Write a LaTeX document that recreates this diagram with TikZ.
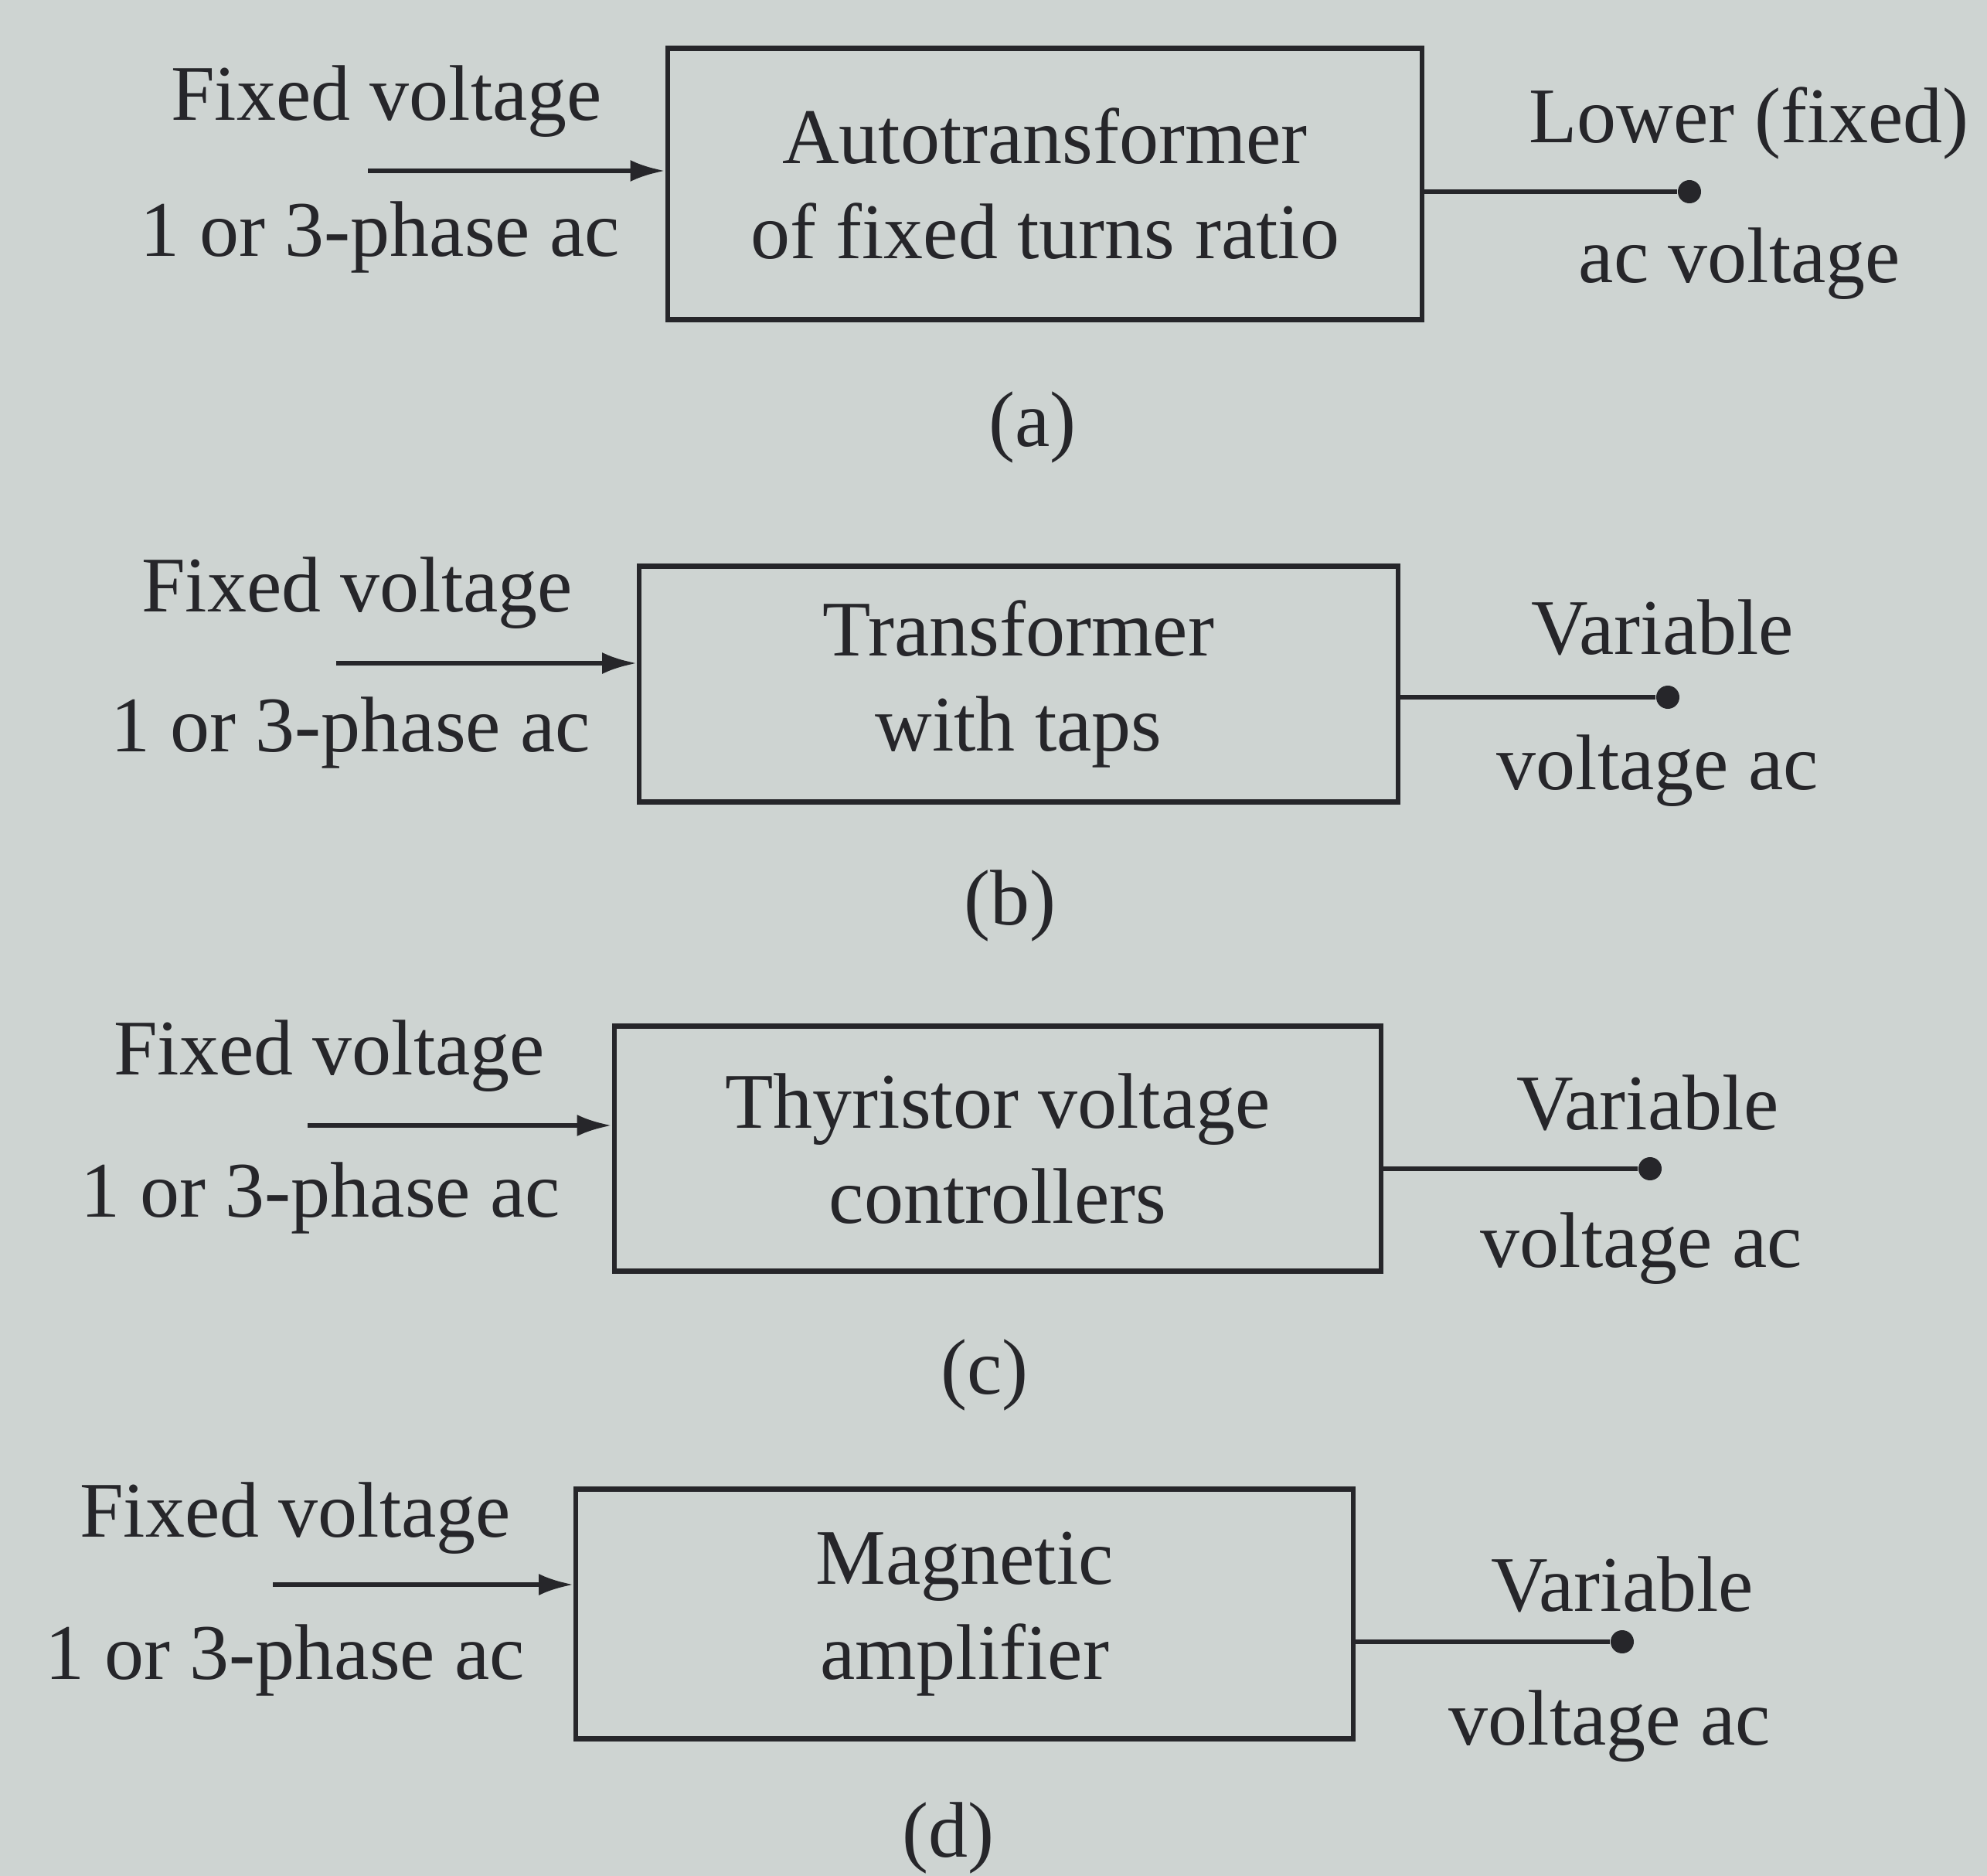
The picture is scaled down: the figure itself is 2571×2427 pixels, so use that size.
\documentclass[tikz,border=0pt]{standalone}
\usepackage{fontspec}
\setmainfont{Liberation Serif}
\usetikzlibrary{arrows.meta}
\definecolor{bg}{RGB}{206,212,210}
\definecolor{ink}{RGB}{38,38,42}
\begin{document}
\begin{tikzpicture}[x=0.01cm,y=-0.01cm,
  txt/.style={text=ink,font=\fontsize{29}{35}\selectfont,inner sep=0pt},
  blockbox/.style={draw=ink,line width=1.8pt,text=ink,align=center,inner sep=0pt,
     font=\fontsize{29}{35}\selectfont},
  inarrow/.style={draw=ink,line width=1.8pt,-{Latex[length=0.45cm,width=0.28cm]}},
  outline/.style={draw=ink,line width=1.8pt},
  dotnode/.style={circle,fill=ink,inner sep=0pt,minimum size=0.3cm}]
\fill[bg] (0,0) rectangle (2571,2427);
\useasboundingbox (0,0) rectangle (2571,2427);

% (a)
\node[blockbox,minimum width=9.76cm,minimum height=3.51cm] (boxa) at (1352,238)
  {Autotransformer\\of fixed turns ratio};
\node[txt] (fa) at (500,131) {Fixed voltage};
\node[txt] (pa) at (492,307) {1 or 3-phase ac};
\coordinate (ia) at (476,221);
\draw[inarrow] (ia) -- (ia -| boxa.west);
\node[dotnode] (da) at (2186,248) {};
\draw[outline] (da -| boxa.east) -- (da);
\node[txt] (oa1) at (2263,159) {Lower (fixed)};
\node[txt] (oa2) at (2251,341) {ac voltage};
\node[txt] (la) at (1336,553) {(a)};

% (b)
\node[blockbox,minimum width=9.81cm,minimum height=3.05cm] (boxb) at (1318,885)
  {Transformer\\with taps};
\node[txt] (fb) at (462,767) {Fixed voltage};
\node[txt] (pb) at (454,948) {1 or 3-phase ac};
\coordinate (ib) at (435,858);
\draw[inarrow] (ib) -- (ib -| boxb.west);
\node[dotnode] (db) at (2158,902) {};
\draw[outline] (db -| boxb.east) -- (db);
\node[txt] (ob1) at (2151,812) {Variable};
\node[txt] (ob2) at (2145,997) {voltage ac};
\node[txt] (lb) at (1307,1172) {(b)};

% (c)
\node[blockbox,minimum width=9.92cm,minimum height=3.17cm] (boxc) at (1291,1486)
  {Thyristor voltage\\controllers};
\node[txt] (fc) at (426,1366) {Fixed voltage};
\node[txt] (pc) at (415,1550) {1 or 3-phase ac};
\coordinate (ic) at (398,1456);
\draw[inarrow] (ic) -- (ic -| boxc.west);
\node[dotnode] (dc) at (2135,1512) {};
\draw[outline] (dc -| boxc.east) -- (dc);
\node[txt] (oc1) at (2132,1427) {Variable};
\node[txt] (oc2) at (2124,1615) {voltage ac};
\node[txt] (lc) at (1274,1779) {(c)};

% (d)
\node[blockbox,minimum width=10.05cm,minimum height=3.23cm] (boxd) at (1248,2088)
  {Magnetic\\amplifier};
\node[txt] (fd) at (382,1964) {Fixed voltage};
\node[txt] (pd) at (369,2148) {1 or 3-phase ac};
\coordinate (id) at (353,2050);
\draw[inarrow] (id) -- (id -| boxd.west);
\node[dotnode] (dd) at (2099,2124) {};
\draw[outline] (dd -| boxd.east) -- (dd);
\node[txt] (od1) at (2099,2050) {Variable};
\node[txt] (od2) at (2083,2233) {voltage ac};
\node[txt] (ld) at (1227,2378) {(d)};
\end{tikzpicture}
\end{document}
